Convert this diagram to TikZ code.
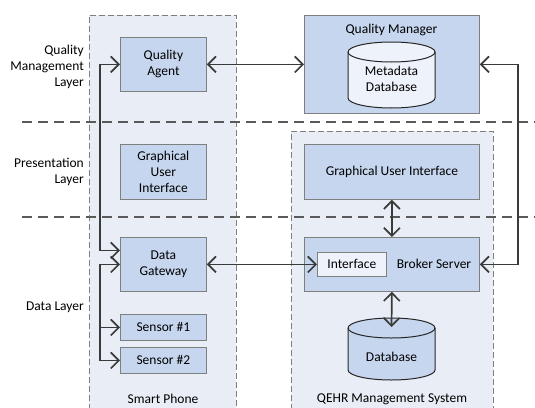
\documentclass[tikz,border=0pt]{standalone}
\usepackage{fontspec}
\setmainfont{Carlito}
\usetikzlibrary{arrows.meta,calc}

\definecolor{boxfill}{HTML}{C6D6EE}
\definecolor{boxline}{HTML}{7F7F7F}
\definecolor{contfill}{HTML}{E9EEF6}
\definecolor{lightfill}{HTML}{EEF2FA}
\definecolor{arrowcol}{HTML}{3A3A3A}
\definecolor{layerline}{HTML}{5A5A5A}

% cylinder: x1, x2, ytop, ybottom, end radius, fill colour
\newcommand{\cylshape}[6]{%
  \pgfmathsetmacro\cylrx{(#2-#1)/2}%
  \filldraw[cylline, fill=#6] (#1,#3+#5) -- (#1,#4-#5)
    arc[start angle=180, end angle=0, x radius=\cylrx, y radius=#5]
    -- (#2,#3+#5)
    arc[start angle=0, end angle=-180, x radius=\cylrx, y radius=#5] -- cycle;
  \draw[cylline] (#1,#3+#5) arc[start angle=180, end angle=0, x radius=\cylrx, y radius=#5];
}

\begin{document}
\begin{tikzpicture}[x=1pt, y=-1pt,
  every node/.style={font=\fontsize{13.5}{16}\selectfont, inner sep=0pt},
  container/.style={fill=contfill, draw=boxline, dash pattern=on 6pt off 3pt, line width=0.8pt},
  unit/.style={rectangle, fill=boxfill, draw=boxline, line width=0.8pt, align=center, anchor=north west},
  cylline/.style={draw=black!85, line width=1pt},
  layer/.style={draw=layerline, line width=1.3pt, dash pattern=on 10pt off 6pt},
  layertext/.style={align=right, anchor=east},
  arr/.style={draw=arrowcol, line width=1.7pt, -{Straight Barb[length=8pt,width=16pt]}},
  arrboth/.style={draw=arrowcol, line width=1.7pt, {Straight Barb[length=8pt,width=16pt]}-{Straight Barb[length=8pt,width=16pt]}}
]
\useasboundingbox (0,0) rectangle (535,407);

% system containers
\path[container] (89,410) -- (89,15) -- (236,15) -- (236,410);
\path[container] (291,410) -- (291,131) -- (493,131) -- (493,410);

% layer separators
\draw[layer] (22,122) -- (535,122);
\draw[layer] (22,217) -- (535,217);

% layer names
\node[layertext] (lqm) at (84,67) {Quality\\Management\\Layer};
\node[layertext] (lpr) at (84,172) {Presentation\\Layer};
\node[layertext] (lda) at (84,307) {Data Layer};

% smart phone components
\node[unit, minimum width=86pt, minimum height=54pt] (qa) at (120,37) {Quality\\Agent};
\node[unit, minimum width=86pt, minimum height=55pt] (gui1) at (120,144) {Graphical\\User\\Interface};
\node[unit, minimum width=86pt, minimum height=54pt] (dg) at (120,237) {Data\\Gateway};
\node[unit, minimum width=86pt, minimum height=26pt] (s1) at (120,314) {Sensor \#1};
\node[unit, minimum width=86pt, minimum height=26pt] (s2) at (120,347) {Sensor \#2};
\node (sp) at (163,399) {Smart Phone};

% quality manager
\node[unit, minimum width=175pt, minimum height=98pt] (qm) at (304,15) {};
\node (qmt) at (391.5,30) {Quality Manager};
\cylshape{348}{435}{42}{108}{10}{lightfill}
\node[align=center] (mdb) at (391.5,79) {Metadata\\Database};

% QEHR management system
\node[unit, minimum width=175pt, minimum height=55pt] (gui2) at (304,144) {Graphical User Interface};
\node[unit, minimum width=175pt, minimum height=54pt] (bs) at (304,237) {};
\node[unit, fill=lightfill, minimum width=69pt, minimum height=24pt] (if) at (317,252) {Interface};
\node (bst) at (434,264) {Broker Server};
\cylshape{348}{435}{318}{380}{10}{boxfill}
\node (db) at (391.5,357) {Database};
\coordinate (dbtop) at (391.5,327);
\node (qs) at (392,399) {QEHR Management System};

% connectors
\draw[arrboth] (qa.east) -- (qm.west);
\draw[arrboth] (qa.west) -- ++(-20,0) |- ([yshift=14pt]dg.west);
\draw[arrboth] (dg.west) -- ++(-20,0) |- (s2.west);
\draw[arr] ([xshift=-20pt]s1.west) -- (s1.west);
\draw[arrboth] (dg.east) -- (if.west);
\draw[arrboth] (gui2.south) -- (bs.north);
\draw[arrboth] (bs.south) -- (dbtop);
\draw[arrboth] (bs.east) -- ++(38,0) |- (qm.east);
\end{tikzpicture}
\end{document}
